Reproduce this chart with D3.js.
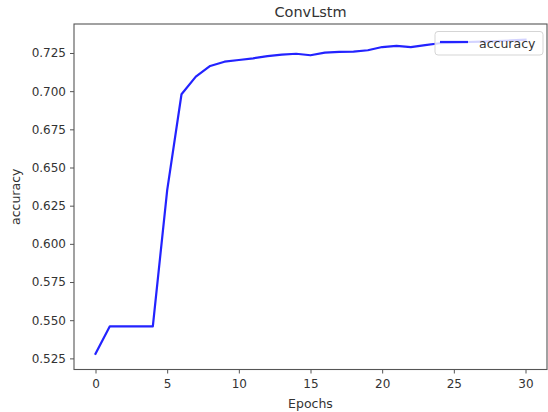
<!DOCTYPE html>
<html>
<head>
<meta charset="utf-8">
<script src="https://cdn.jsdelivr.net/npm/d3@7/dist/d3.min.js"></script>
<style>
  html, body { margin: 0; padding: 0; background: #fff; }
  svg { display: block; }
  text { font-family: "DejaVu Sans", sans-serif; fill: #333; }
</style>
</head>
<body>
<svg id="chart" width="548" height="412"></svg>
<script>
const epochs = d3.range(0, 31);
const accuracy = [0.528, 0.546, 0.546, 0.546, 0.546, 0.635, 0.698, 0.7095, 0.7165, 0.7193,
  0.7204, 0.7215, 0.7230, 0.7239, 0.7245, 0.7235, 0.7252, 0.7257, 0.7259, 0.7268,
  0.7289, 0.7296, 0.7289, 0.7301, 0.7314, 0.7318, 0.7322, 0.7325, 0.7328, 0.7332, 0.7337];
const xTicks = [0, 5, 10, 15, 20, 25, 30];
const yTicks = [0.525, 0.550, 0.575, 0.600, 0.625, 0.650, 0.675, 0.700, 0.725];
const titleText = "ConvLstm";
const xLabel = "Epochs";
const yLabel = "accuracy";
const seriesName = "accuracy";

const svg = d3.select("#chart");
const pLeft = 74, pRight = 547, pTop = 24, pBottom = 369.5;

const xExt = d3.extent(epochs), xPad = (xExt[1] - xExt[0]) * 0.05;
const yExt = d3.extent(accuracy), yPad = (yExt[1] - yExt[0]) * 0.05;
const x = d3.scaleLinear().domain([xExt[0] - xPad, xExt[1] + xPad]).range([pLeft, pRight]);
const y = d3.scaleLinear().domain([yExt[0] - yPad, yExt[1] + yPad]).range([pBottom, pTop]);

// line
const line = d3.line().x((d, i) => x(epochs[i])).y(d => y(d));
svg.append("path").datum(accuracy)
  .attr("d", line)
  .attr("fill", "none")
  .attr("stroke", "#2323ff")
  .attr("stroke-width", 2.2)
  .attr("stroke-linejoin", "round")
  .attr("stroke-linecap", "square");

// axes
const xAxis = d3.axisBottom(x).tickValues(xTicks).tickFormat(d3.format("d")).tickSizeInner(4).tickSizeOuter(0).tickPadding(4);
const yAxis = d3.axisLeft(y).tickValues(yTicks).tickFormat(d3.format(".3f")).tickSizeInner(4).tickSizeOuter(0).tickPadding(4);

const gx = svg.append("g").attr("transform", `translate(0,${pBottom})`).call(xAxis);
const gy = svg.append("g").attr("transform", `translate(${pLeft},0)`).call(yAxis);
[gx, gy].forEach(g => {
  g.select(".domain").remove();
  g.selectAll(".tick line").attr("stroke", "#555").attr("stroke-width", 1);
  g.selectAll(".tick text").attr("font-size", 12).attr("fill", "#333")
    .style("font-family", "'DejaVu Sans', sans-serif");
});
gx.selectAll(".tick text").attr("dy", "0.9em");

// frame
svg.append("rect")
  .attr("x", pLeft).attr("y", pTop)
  .attr("width", pRight - pLeft).attr("height", pBottom - pTop)
  .attr("fill", "none").attr("stroke", "#555").attr("stroke-width", 1.1);

// title and labels
svg.append("text").attr("x", (pLeft + pRight) / 2).attr("y", 17)
  .attr("text-anchor", "middle").attr("font-size", 14.5).text(titleText);
svg.append("text").attr("x", (pLeft + pRight) / 2).attr("y", 408)
  .attr("text-anchor", "middle").attr("font-size", 12.5).text(xLabel);
svg.append("text")
  .attr("transform", `translate(20,${(pTop + pBottom) / 2}) rotate(-90)`)
  .attr("text-anchor", "middle").attr("font-size", 12.5).text(yLabel);

// legend
const lg = svg.append("g");
lg.append("rect").attr("x", 435).attr("y", 31.5).attr("width", 108).attr("height", 23.5)
  .attr("rx", 3).attr("fill", "rgba(255,255,255,0.8)").attr("stroke", "#d5d5d5").attr("stroke-width", 1);
lg.append("line").attr("x1", 440).attr("x2", 468).attr("y1", 42).attr("y2", 42)
  .attr("stroke", "#2323ff").attr("stroke-width", 2.2);
lg.append("text").attr("x", 479).attr("y", 47.5).attr("font-size", 12.5).text(seriesName);
</script>
</body>
</html>
